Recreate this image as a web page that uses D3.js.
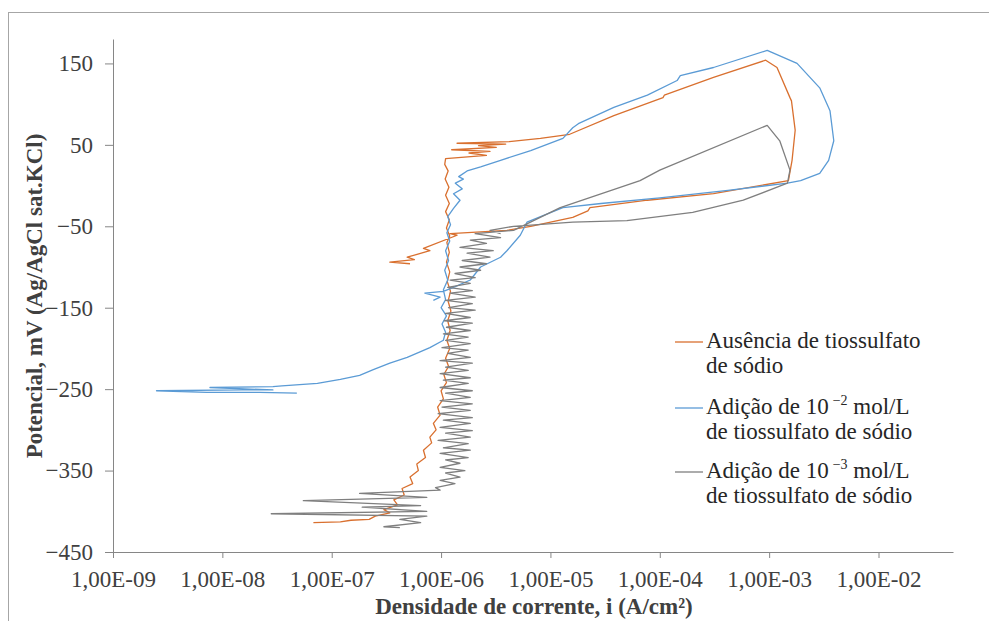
<!DOCTYPE html>
<html>
<head>
<meta charset="utf-8">
<script src="https://cdn.jsdelivr.net/npm/d3@7"></script>
<style>
	body { margin: 0; background: #fff; }
	svg { display: block; }
</style>
</head>
<body>
<div id="chart"></div>
<script>
// axis ticks
const xTicks = [1e-9, 1e-8, 1e-7, 1e-6, 1e-5, 1e-4, 1e-3, 1e-2];
const xTickLabels = ["1,00E-09", "1,00E-08", "1,00E-07", "1,00E-06", "1,00E-05", "1,00E-04", "1,00E-03", "1,00E-02"];
const yTicks = [150, 50, -50, -150, -250, -350, -450];
const xDomain = [1e-9, 0.048];
const yDomain = [-450, 180];

// series names (legend)
const seriesNames = ["ausencia", "adicao2", "adicao3"];

// [i (A/cm2), potencial (mV)] - ausencia de tiossulfato
const ausencia = [
	[6.8e-8,-414],[1.2e-7,-413],[1.5e-7,-411],[2.2e-7,-410],[2.5e-7,-406],[3.4e-7,-402],[3.0e-7,-398],
	[4.0e-7,-392],[3.7e-7,-386],[4.6e-7,-380],[4.4e-7,-372],[5.5e-7,-366],[5.2e-7,-358],[6.2e-7,-350],
	[6.0e-7,-342],[7.2e-7,-334],[6.9e-7,-325],[8.2e-7,-316],[7.9e-7,-309],[9.0e-7,-300],[8.5e-7,-292],
	[9.8e-7,-282],[9.3e-7,-272],[1.05e-6,-262],[1.0e-6,-252],[1.12e-6,-242],[1.06e-6,-232],[1.17e-6,-222],
	[1.1e-6,-212],[1.2e-6,-200],[1.13e-6,-190],[1.21e-6,-178],[1.15e-6,-166],[1.23e-6,-154],[1.16e-6,-142],
	[1.22e-6,-130],[1.14e-6,-118],[1.2e-6,-106],[1.12e-6,-94],[1.19e-6,-82],[1.13e-6,-70],[1.2e-6,-62],
	[1.12e-6,-52],[1.19e-6,-42],[1.1e-6,-32],[1.19e-6,-22],[1.1e-6,-12],[1.18e-6,-2],[1.09e-6,8],
	[1.16e-6,18],[1.08e-6,26],[1.1e-6,33],[2.6e-6,37],[1.8e-6,40],[2.8e-6,42],[1.25e-6,44],[3.2e-6,47],
	[2.2e-6,49],[3.9e-6,51],[1.4e-6,52],[4.2e-6,54],[8.1e-6,58],[1.5e-5,63],[3.8e-5,86],[1.07e-4,108],
	[1.1e-4,111],[3.1e-4,133],[9.3e-4,154],[1.18e-3,145],[1.55e-3,108],[1.6e-3,104],[1.73e-3,68],
	[1.62e-3,31],[1.5e-3,6],[3.1e-4,-10],[7.7e-5,-18],[2.3e-5,-27],[2.2e-5,-31],[1.6e-5,-39],[6.6e-6,-50],
	[4.0e-6,-55],[1.21e-6,-59],[1.4e-6,-61],[6.9e-7,-77],[7.9e-7,-80],[4.9e-7,-88],[5.7e-7,-91],
	[3.4e-7,-94],[5.2e-7,-96]
];

// adicao de 10^-2 mol/L
const adicao2 = [
	[4.8e-8,-255],[2.2e-8,-254],[7.2e-9,-254],[2.5e-9,-252],[1.5e-8,-251],[2.9e-8,-251],[7.7e-9,-248],
	[2.9e-8,-247],[3.5e-8,-246],[7.4e-8,-243],[1.2e-7,-238],[1.8e-7,-233],[2.4e-7,-226],[3.4e-7,-218],
	[4.9e-7,-211],[6.5e-7,-204],[7.9e-7,-199],[1.05e-6,-190],[1.1e-6,-180],[1.02e-6,-170],[1.12e-6,-160],
	[1.0e-6,-150],[1.1e-6,-140],[1.05e-6,-128],[1.15e-6,-116],[1.08e-6,-104],[1.17e-6,-92],[1.1e-6,-80],
	[1.2e-6,-68],[1.13e-6,-58],[1.22e-6,-48],[1.15e-6,-38],[1.3e-6,-28],[1.49e-6,-18],[1.3e-6,-10],
	[1.56e-6,-4],[1.35e-6,3],[1.6e-6,8],[1.45e-6,11],[1.73e-6,18],[2.3e-6,23],[3.5e-6,31],[6.6e-6,43],
	[1.3e-5,58],[1.6e-5,71],[1.8e-5,76],[3.8e-5,96],[7.7e-5,111],[1.44e-4,129],[1.54e-4,135],[3.1e-4,145],
	[9.6e-4,166],[1.8e-3,150],[2.9e-3,120],[3.6e-3,92],[3.9e-3,55],[3.5e-3,31],[2.9e-3,15],[1.94e-3,6],
	[1.47e-3,3],[4.2e-4,-6],[1.0e-4,-15],[2.9e-5,-22],[1.3e-5,-27],[6.1e-6,-45],[5.3e-6,-61],[4.0e-6,-80],
	[3.5e-6,-88],[2.3e-6,-100],[1.85e-6,-116],[1.3e-6,-125],[1.05e-6,-130],[7.1e-7,-132],[9.8e-7,-137],
	[8.5e-7,-141]
];

// adicao de 10^-3 mol/L
const adicao3 = [
	[4.2e-7,-420],[3.0e-7,-419],[6.5e-7,-414],[4.2e-7,-410],[7.4e-7,-406],[2.8e-8,-403],[7.4e-7,-400],
	[1.9e-7,-395],[6.5e-7,-393],[5.5e-8,-387],[7.4e-7,-383],[1.8e-7,-378],[9.8e-7,-374],[8.9e-7,-371],
	[1.34e-6,-366],[9.8e-7,-362],[1.49e-6,-358],[1.1e-6,-353],[1.65e-6,-350],[9.8e-7,-346],[1.49e-6,-341],
	[1.1e-6,-337],[1.77e-6,-334],[9.8e-7,-329],[1.85e-6,-325],[1.05e-6,-322],[1.77e-6,-317],[9.4e-7,-313],
	[1.85e-6,-309],[1.1e-6,-304],[1.93e-6,-301],[9.8e-7,-297],[1.85e-6,-292],[1.05e-6,-288],[1.93e-6,-285],
	[9.4e-7,-280],[1.85e-6,-276],[1.02e-6,-272],[1.93e-6,-268],[9.8e-7,-264],[1.85e-6,-260],[1.1e-6,-255],
	[1.93e-6,-252],[9.8e-7,-248],[1.77e-6,-243],[1.05e-6,-239],[1.85e-6,-236],[9.8e-7,-231],[1.77e-6,-227],
	[1.1e-6,-223],[1.93e-6,-218],[9.8e-7,-215],[1.85e-6,-211],[1.15e-6,-206],[1.77e-6,-202],[1.02e-6,-199],
	[1.85e-6,-194],[1.1e-6,-190],[1.77e-6,-186],[1.05e-6,-182],[1.85e-6,-178],[1.12e-6,-174],[1.93e-6,-169],
	[1.07e-6,-166],[1.85e-6,-162],[1.1e-6,-157],[2.05e-6,-153],[1.17e-6,-150],[1.93e-6,-145],[1.1e-6,-141],
	[2.05e-6,-137],[1.21e-6,-132],[1.93e-6,-129],[1.15e-6,-125],[1.85e-6,-120],[1.21e-6,-116],[2.05e-6,-113],
	[1.34e-6,-108],[2.3e-6,-104],[1.49e-6,-100],[2.6e-6,-96],[1.56e-6,-92],[2.8e-6,-88],[1.73e-6,-83],
	[3.0e-6,-80],[1.49e-6,-76],[2.6e-6,-71],[1.85e-6,-67],[3.5e-6,-64],[2.05e-6,-59],[4.6e-6,-55],
	[1.23e-5,-27],[6.6e-5,6],[1.0e-4,19],[9.6e-4,74],[1.25e-3,55],[1.55e-3,19],[1.47e-3,3],[5.8e-4,-18],
	[2.0e-4,-33],[5.0e-5,-43],[1.6e-5,-45],[4.6e-6,-50],[2.8e-6,-55],[3.5e-6,-59]
];

const colors = { ausencia: "#d9702f", adicao2: "#5b9bd5", adicao3: "#7f7f7f" };
const seriesData = { ausencia: ausencia, adicao2: adicao2, adicao3: adicao3 };

const width = 989;
const height = 621;
const fontFamily = "'Liberation Serif', 'Times New Roman', serif";
const fontSize = 23;

const svg = d3.select("#chart").append("svg")
	.attr("width", width)
	.attr("height", height);

//outer chart border (runs off the picture at right and bottom)
svg.append("rect")
	.attr("x", 8.5).attr("y", 12.5)
	.attr("width", 1000).attr("height", 700)
	.attr("fill", "none")
	.attr("stroke", "#a6a6a6");

//scales
const x = d3.scaleLog().domain(xDomain).range([113, 953]);
const y = d3.scaleLinear().domain(yDomain).range([552, 39]);

//y axis
const yAxis = svg.append("g")
	.attr("transform", "translate(113,0)")
	.call(d3.axisLeft(y).tickValues(yTicks).tickSize(8).tickSizeOuter(0).tickPadding(12));
yAxis.select(".domain").attr("stroke", "#868686");
yAxis.selectAll(".tick line").attr("stroke", "#868686");
yAxis.selectAll(".tick text")
	.attr("font-family", fontFamily)
	.attr("font-size", fontSize)
	.attr("fill", "#404040");

//x axis
const xAxis = svg.append("g")
	.attr("transform", "translate(0,552)")
	.call(d3.axisBottom(x).tickValues(xTicks).tickFormat((d, i) => xTickLabels[i]).tickSize(6).tickSizeOuter(0));
xAxis.select(".domain").attr("stroke", "#868686");
xAxis.selectAll(".tick line").attr("stroke", "#868686");
xAxis.selectAll(".tick text")
	.attr("font-family", fontFamily)
	.attr("font-size", fontSize)
	.attr("fill", "#404040")
	.attr("y", 35)
	.attr("dy", 0);

//lines, drawn in series order
const line = d3.line()
	.x(d => x(d[0]))
	.y(d => y(d[1]));

svg.append("g")
	.selectAll("path")
	.data(seriesNames)
	.enter()
	.append("path")
		.attr("d", d => line(seriesData[d]))
		.attr("fill", "none")
		.attr("stroke", d => colors[d])
		.attr("stroke-width", 1.3)
		.attr("stroke-linejoin", "round");

//axis titles (x title kept just inside the bottom edge)
svg.append("text")
	.attr("x", 534).attr("y", 614)
	.attr("text-anchor", "middle")
	.attr("font-family", fontFamily)
	.attr("font-weight", "bold")
	.attr("font-size", fontSize)
	.attr("fill", "#404040")
	.text("Densidade de corrente, i (A/cm²)");

svg.append("text")
	.attr("transform", "translate(42,296) rotate(-90)")
	.attr("text-anchor", "middle")
	.attr("font-family", fontFamily)
	.attr("font-weight", "bold")
	.attr("font-size", fontSize)
	.attr("fill", "#404040")
	.text("Potencial, mV (Ag/AgCl sat.KCl)");

//legend
const legendRows = [
	{ key: "ausencia", y: 342, first: [["Ausência de tiossulfato"]], second: "de sódio" },
	{ key: "adicao2", y: 408, first: [["Adição de 10"], ["−2", "sup"], [" mol/L"]], second: "de tiossulfato de sódio" },
	{ key: "adicao3", y: 472, first: [["Adição de 10"], ["−3", "sup"], [" mol/L"]], second: "de tiossulfato de sódio" }
];

const legend = svg.append("g");
legendRows.forEach(function(row) {
	legend.append("line")
		.attr("x1", 675).attr("x2", 703)
		.attr("y1", row.y).attr("y2", row.y)
		.attr("stroke", colors[row.key])
		.attr("stroke-width", 1.3);

	let t = legend.append("text")
		.attr("x", 706).attr("y", row.y + 6)
		.attr("font-family", fontFamily)
		.attr("font-size", fontSize)
		.attr("fill", "#262626");
	let shifted = false;
	row.first.forEach(function(part) {
		let span = t.append("tspan").text(part[0]);
		if (part[1] == "sup") {
			span.attr("font-size", 14).attr("dy", -9).attr("dx", 4);
			shifted = true;
		} else if (shifted) {
			span.attr("dy", 9);
			shifted = false;
		}
	});

	legend.append("text")
		.attr("x", 706).attr("y", row.y + 31)
		.attr("font-family", fontFamily)
		.attr("font-size", fontSize)
		.attr("fill", "#262626")
		.text(row.second);
});
</script>
</body>
</html>
